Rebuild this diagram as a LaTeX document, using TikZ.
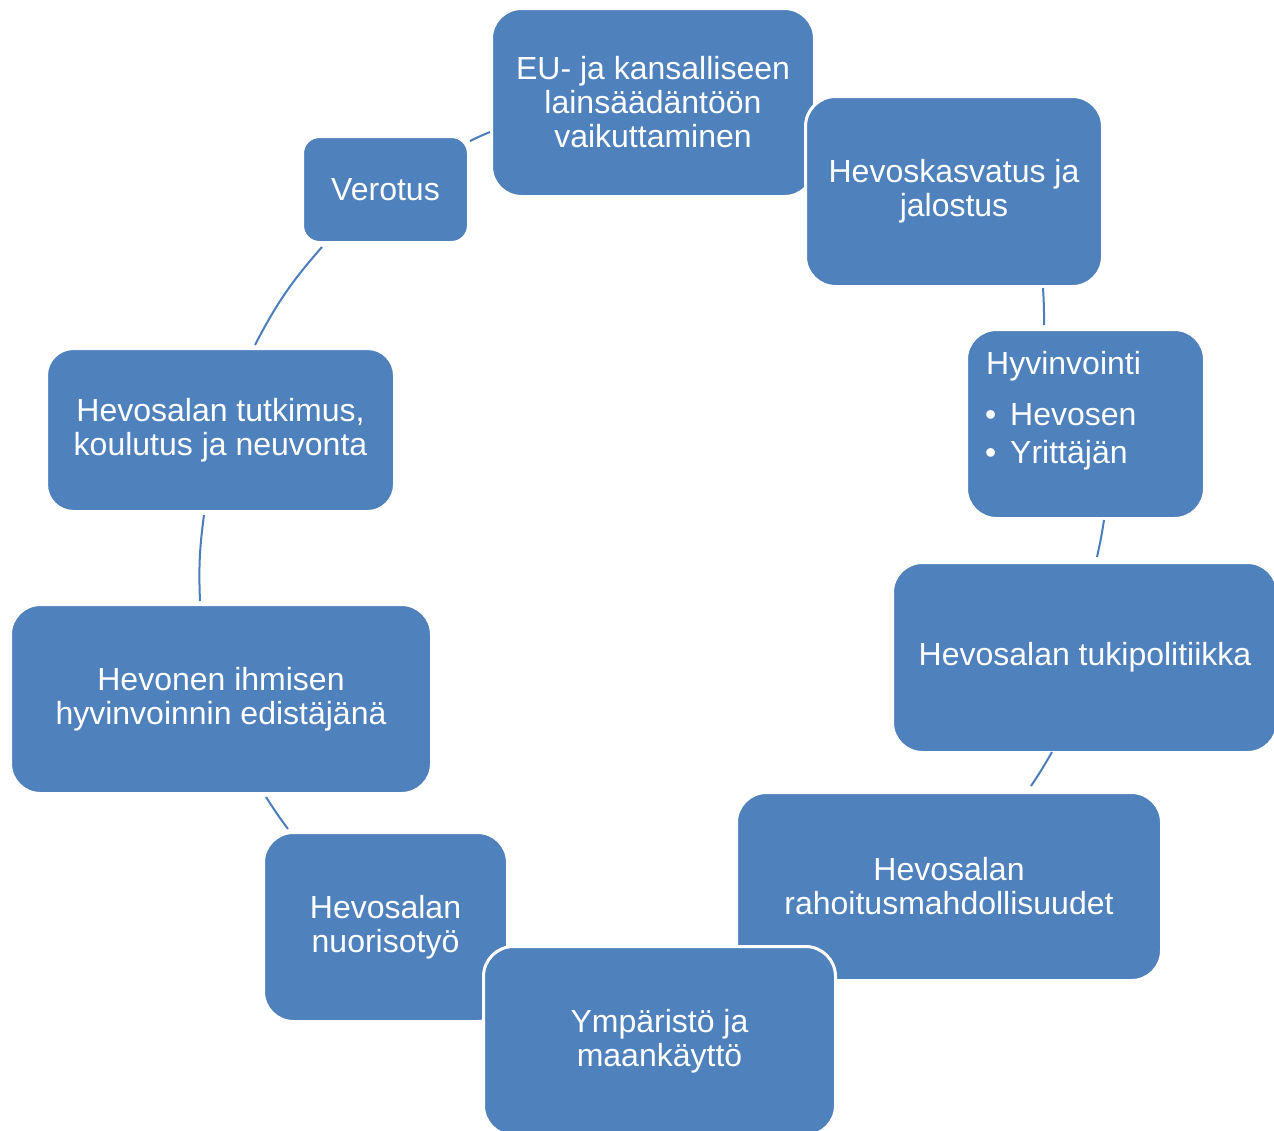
\documentclass[tikz,border=0pt]{standalone}
\usepackage{fontspec}
\setmainfont{Liberation Sans}
\definecolor{boxblue}{HTML}{4F81BD}
\definecolor{linkblue}{HTML}{4A7EBB}
\begin{document}
\begin{tikzpicture}[x=1pt,y=-1pt,
  box/.style={rectangle, rounded corners=#1, fill=boxblue, draw=white, line width=3pt,
    text=white, align=center, font=\fontsize{32}{34}\selectfont, inner sep=0pt},
  box/.default=30pt,
  link/.style={draw=linkblue, line width=2pt},
  txt/.style={text=white, inner sep=0pt, font=\fontsize{32}{34}\selectfont}]
\useasboundingbox[fill=white] (0,0) rectangle (1274,1130);

\node[box=17pt, minimum width=166pt, minimum height=106pt] (ver) at (385.5,189.5) {Verotus};
\node[box, minimum width=323pt, minimum height=188pt] (eu) at (653,102.5) {EU- ja kansalliseen\\lainsäädäntöön\\vaikuttaminen};
\node[box, minimum width=297pt, minimum height=190pt] (hk) at (954,191.5) {Hevoskasvatus ja\\jalostus};
\node[box, minimum width=238pt, minimum height=189pt] (hyv) at (1085.5,424) {};
\node[txt, anchor=base west] (hyvt) at (986,374) {Hyvinvointi};
\node[txt, anchor=base west] (b1) at (985,425) {\textbullet};
\node[txt, anchor=base west] (hyv1) at (1010,425) {Hevosen};
\node[txt, anchor=base west] (b2) at (985,463) {\textbullet};
\node[txt, anchor=base west] (hyv2) at (1010,463) {Yrittäjän};
\node[box, minimum width=385pt, minimum height=190pt] (tuki) at (1085,657.5) {Hevosalan tukipolitiikka};
\node[box, minimum width=425pt, minimum height=188pt] (rah) at (949,886.5) {Hevosalan\\rahoitusmahdollisuudet};
\node[box, minimum width=244pt, minimum height=189pt] (nuo) at (385.5,927) {Hevosalan\\nuorisotyö};
\node[box, minimum width=352pt, minimum height=189pt] (ymp) at (659.5,1041) {Ympäristö ja\\maankäyttö};
\node[box, minimum width=421pt, minimum height=189pt] (hev) at (221,699) {Hevonen ihmisen\\hyvinvoinnin edistäjänä};
\node[box=27pt, minimum width=348pt, minimum height=163pt] (tut) at (220.5,430) {Hevosalan tutkimus,\\koulutus ja neuvonta};

\coordinate (c1a) at (470,141); \coordinate (c1b) at (490,132);
\coordinate (c2a) at (1043,288); \coordinate (c2b) at (1044,325);
\coordinate (c3a) at (1104,520); \coordinate (c3b) at (1097,557);
\coordinate (c4a) at (1052,752); \coordinate (c4b) at (1031,786);
\coordinate (c5a) at (288,829); \coordinate (c5b) at (266,797);
\coordinate (c6a) at (200,601); \coordinate (c6b) at (204,515);
\coordinate (c7a) at (255,345); \coordinate (c7b) at (322,247);

\draw[link] (c1a) to[bend left=2] (c1b);
\draw[link] (c2a) to[bend left=2] (c2b);
\draw[link] (c3a) to[bend left=2] (c3b);
\draw[link] (c4a) to[bend left=2] (c4b);
\draw[link] (c5a) to[bend left=2] (c5b);
\draw[link] (c6a) to[bend left=5] (c6b);
\draw[link] (c7a) to[bend left=7] (c7b);
\end{tikzpicture}
\end{document}
